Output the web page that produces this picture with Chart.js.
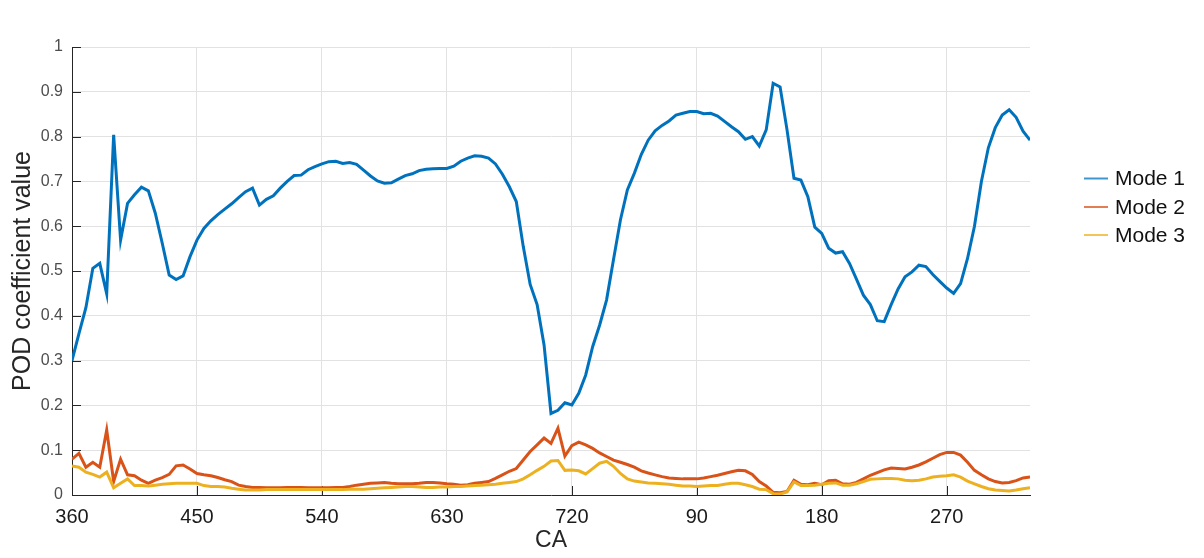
<!DOCTYPE html>
<html>
<head>
<meta charset="utf-8">
<script src="https://cdn.jsdelivr.net/npm/chart.js@4"></script>
<style>
  html, body { margin: 0; padding: 0; background: #ffffff; }
  canvas { display: block; }
</style>
</head>
<body>
<canvas id="podChart" width="1204" height="558"></canvas>
<script>
// Crank angle (deg), sampled every 5 degrees over the cycle window
const crankAngle = [
  360, 365, 370, 375, 380, 385, 390, 395, 400, 405,
  410, 415, 420, 425, 430, 435, 440, 445, 450, 455,
  460, 465, 470, 475, 480, 485, 490, 495, 500, 505,
  510, 515, 520, 525, 530, 535, 540, 545, 550, 555,
  560, 565, 570, 575, 580, 585, 590, 595, 600, 605,
  610, 615, 620, 625, 630, 635, 640, 645, 650, 655,
  660, 665, 670, 675, 680, 685, 690, 695, 700, 705,
  710, 715, 720, 725, 730, 735, 740, 745, 750, 755,
  760, 765, 770, 775, 780, 785, 790, 795, 800, 805,
  810, 815, 820, 825, 830, 835, 840, 845, 850, 855,
  860, 865, 870, 875, 880, 885, 890, 895, 900, 905,
  910, 915, 920, 925, 930, 935, 940, 945, 950, 955,
  960, 965, 970, 975, 980, 985, 990, 995, 1000, 1005,
  1010, 1015, 1020, 1025, 1030, 1035, 1040, 1045, 1050
];

// POD temporal coefficients
const mode1 = [
  0.300, 0.360, 0.418, 0.506, 0.517, 0.449, 0.804, 0.569, 0.651, 0.670,
  0.687, 0.679, 0.629, 0.562, 0.491, 0.481, 0.489, 0.532, 0.569, 0.595,
  0.612, 0.626, 0.638, 0.650, 0.664, 0.677, 0.685, 0.647, 0.660, 0.668,
  0.685, 0.700, 0.713, 0.714, 0.726, 0.733, 0.739, 0.744, 0.745, 0.740,
  0.742, 0.738, 0.725, 0.712, 0.701, 0.696, 0.697, 0.705, 0.713, 0.717,
  0.724, 0.727, 0.728, 0.729, 0.729, 0.734, 0.745, 0.752, 0.757, 0.756,
  0.752, 0.739, 0.716, 0.688, 0.655, 0.555, 0.470, 0.425, 0.335, 0.182,
  0.189, 0.206, 0.201, 0.227, 0.268, 0.331, 0.379, 0.435, 0.525, 0.614,
  0.681, 0.718, 0.760, 0.792, 0.813, 0.825, 0.835, 0.848, 0.852, 0.856,
  0.856, 0.851, 0.852, 0.846, 0.834, 0.822, 0.811, 0.794, 0.800, 0.779,
  0.815, 0.919, 0.911, 0.815, 0.707, 0.703, 0.666, 0.598, 0.584, 0.551,
  0.540, 0.543, 0.517, 0.482, 0.446, 0.425, 0.389, 0.387, 0.425, 0.460,
  0.487, 0.498, 0.513, 0.510, 0.492, 0.477, 0.462, 0.450, 0.472, 0.528,
  0.600, 0.700, 0.775, 0.820, 0.848, 0.860, 0.843, 0.812, 0.792
];

const mode2 = [
  0.080, 0.093, 0.062, 0.073, 0.062, 0.145, 0.030, 0.080, 0.045, 0.043,
  0.033, 0.026, 0.033, 0.039, 0.046, 0.065, 0.067, 0.058, 0.048, 0.045,
  0.043, 0.039, 0.034, 0.030, 0.022, 0.019, 0.017, 0.017, 0.016, 0.016,
  0.016, 0.017, 0.017, 0.017, 0.016, 0.016, 0.016, 0.016, 0.017, 0.017,
  0.019, 0.022, 0.024, 0.026, 0.027, 0.028, 0.026, 0.025, 0.025, 0.025,
  0.026, 0.028, 0.028, 0.027, 0.025, 0.024, 0.022, 0.023, 0.026, 0.028,
  0.030, 0.037, 0.045, 0.053, 0.059, 0.078, 0.097, 0.112, 0.127, 0.115,
  0.149, 0.087, 0.110, 0.118, 0.112, 0.104, 0.094, 0.086, 0.078, 0.073,
  0.068, 0.062, 0.054, 0.049, 0.045, 0.041, 0.038, 0.037, 0.036, 0.036,
  0.036, 0.038, 0.041, 0.044, 0.048, 0.052, 0.055, 0.054, 0.046, 0.030,
  0.020, 0.006, 0.005, 0.008, 0.033, 0.024, 0.023, 0.026, 0.023, 0.032,
  0.033, 0.025, 0.024, 0.028, 0.036, 0.044, 0.050, 0.056, 0.060, 0.059,
  0.058, 0.062, 0.067, 0.074, 0.082, 0.090, 0.095, 0.095, 0.089, 0.073,
  0.055, 0.045, 0.036, 0.030, 0.027, 0.028, 0.032, 0.038, 0.040
];

const mode3 = [
  0.065, 0.062, 0.051, 0.046, 0.040, 0.051, 0.016, 0.026, 0.036, 0.021,
  0.021, 0.020, 0.022, 0.024, 0.025, 0.026, 0.026, 0.026, 0.026, 0.021,
  0.019, 0.019, 0.018, 0.015, 0.013, 0.011, 0.011, 0.011, 0.012, 0.012,
  0.012, 0.012, 0.012, 0.012, 0.012, 0.012, 0.012, 0.012, 0.012, 0.012,
  0.013, 0.013, 0.013, 0.014, 0.015, 0.016, 0.017, 0.018, 0.019, 0.019,
  0.018, 0.017, 0.017, 0.018, 0.018, 0.019, 0.019, 0.020, 0.021, 0.022,
  0.023, 0.024, 0.026, 0.028, 0.030, 0.036, 0.045, 0.055, 0.064, 0.076,
  0.077, 0.055, 0.056, 0.054, 0.047, 0.059, 0.071, 0.075, 0.064, 0.048,
  0.036, 0.031, 0.029, 0.027, 0.026, 0.025, 0.024, 0.022, 0.020, 0.020,
  0.019, 0.020, 0.021, 0.021, 0.024, 0.026, 0.026, 0.023, 0.019, 0.013,
  0.012, 0.003, 0.002, 0.007, 0.029, 0.021, 0.021, 0.022, 0.024, 0.026,
  0.027, 0.022, 0.022, 0.025, 0.030, 0.035, 0.036, 0.037, 0.037, 0.036,
  0.033, 0.032, 0.033, 0.036, 0.040, 0.042, 0.043, 0.045, 0.040, 0.031,
  0.025, 0.019, 0.014, 0.011, 0.010, 0.009, 0.011, 0.014, 0.016
];

const seriesNames = ['Mode 1', 'Mode 2', 'Mode 3'];
const seriesColors = ['#0072BD', '#D95319', '#EDB120'];

// Angle axis: ticks past 720 restart the cycle count
const xTickValues = [360, 450, 540, 630, 720, 810, 900, 990];
const xTickLabels = ['360', '450', '540', '630', '720', '90', '180', '270'];
const yTickValues = [0, 0.1, 0.2, 0.3, 0.4, 0.5, 0.6, 0.7, 0.8, 0.9, 1];
const yTickLabels = ['0', '0.1', '0.2', '0.3', '0.4', '0.5', '0.6', '0.7', '0.8', '0.9', '1'];

const FONT = "'Liberation Sans', Arial, Helvetica, sans-serif";
const AXIS_DARK = '#262626';

const toPoints = (values) => values.map((v, i) => ({ x: crankAngle[i], y: v }));

// Short inward tick marks on both axes
const innerTicks = {
  id: 'innerTicks',
  beforeDatasetsDraw(chart) {
    const { ctx, chartArea, scales } = chart;
    ctx.save();
    ctx.strokeStyle = AXIS_DARK;
    ctx.lineWidth = 1;
    ctx.beginPath();
    scales.x.ticks.forEach(t => {
      const px = Math.round(scales.x.getPixelForValue(t.value)) + 0.5;
      ctx.moveTo(px, chartArea.bottom);
      ctx.lineTo(px, chartArea.bottom - 9);
    });
    scales.y.ticks.forEach(t => {
      const py = Math.round(scales.y.getPixelForValue(t.value)) + 0.5;
      ctx.moveTo(chartArea.left, py);
      ctx.lineTo(chartArea.left + 9, py);
    });
    ctx.stroke();
    ctx.restore();
  }
};

// Legend placed to the right of the axes
const sideLegend = {
  id: 'sideLegend',
  afterDraw(chart) {
    const { ctx, chartArea } = chart;
    const lineX0 = chartArea.right + 54;
    const lineX1 = lineX0 + 24;
    const textX = lineX1 + 7;
    const rowY = [178.5, 207, 235];
    ctx.save();
    ctx.font = `21px ${FONT}`;
    ctx.textBaseline = 'middle';
    ctx.textAlign = 'left';
    chart.data.datasets.forEach((ds, i) => {
      const y = rowY[i];
      ctx.strokeStyle = ds.borderColor;
      ctx.globalAlpha = 0.75;
      ctx.lineWidth = 2;
      ctx.beginPath();
      ctx.moveTo(lineX0, y);
      ctx.lineTo(lineX1, y);
      ctx.stroke();
      ctx.globalAlpha = 1;
      ctx.fillStyle = '#111111';
      ctx.fillText(ds.label, textX, y + 1);
    });
    ctx.restore();
  }
};

const datasets = [mode1, mode2, mode3].map((vals, i) => ({
  label: seriesNames[i],
  data: toPoints(vals),
  borderColor: seriesColors[i],
  backgroundColor: seriesColors[i],
  borderWidth: 3,
  pointRadius: 0,
  tension: 0,
  fill: false,
  order: 3 - i
}));

new Chart(document.getElementById('podChart'), {
  type: 'line',
  data: { datasets },
  plugins: [innerTicks, sideLegend],
  options: {
    responsive: false,
    animation: false,
    devicePixelRatio: 1,
    layout: { padding: { left: 0, top: 47, right: 174, bottom: 0 } },
    plugins: {
      legend: { display: false },
      tooltip: { enabled: false }
    },
    scales: {
      x: {
        type: 'linear',
        min: 360,
        max: 1050,
        afterBuildTicks: (scale) => { scale.ticks = xTickValues.map(v => ({ value: v })); },
        afterFit: (scale) => { scale.height = 63; },
        ticks: {
          callback: (v) => { const k = xTickValues.indexOf(v); return k >= 0 ? xTickLabels[k] : ''; },
          font: { family: FONT, size: 20 },
          color: '#1a1a1a',
          padding: 10,
          maxRotation: 0,
          autoSkip: false
        },
        grid: { color: '#e2e2e2', lineWidth: 1, drawTicks: false },
        border: { color: AXIS_DARK, width: 1 },
        title: {
          display: true,
          text: 'CA',
          font: { family: FONT, size: 23 },
          color: AXIS_DARK,
          padding: { top: 0, bottom: 4 }
        }
      },
      y: {
        type: 'linear',
        min: 0,
        max: 1,
        afterBuildTicks: (scale) => { scale.ticks = yTickValues.map(v => ({ value: v })); },
        afterFit: (scale) => { scale.width = 72; },
        ticks: {
          callback: (v) => { const k = yTickValues.indexOf(v); return k >= 0 ? yTickLabels[k] : ''; },
          font: { family: FONT, size: 16 },
          color: '#4d4d4d',
          padding: 9
        },
        grid: { color: '#e2e2e2', lineWidth: 1, drawTicks: false },
        border: { color: AXIS_DARK, width: 1 },
        title: {
          display: true,
          text: 'POD coefficient value',
          font: { family: FONT, size: 25 },
          color: AXIS_DARK,
          padding: { top: 8, bottom: 0 }
        }
      }
    }
  }
});
</script>
</body>
</html>
